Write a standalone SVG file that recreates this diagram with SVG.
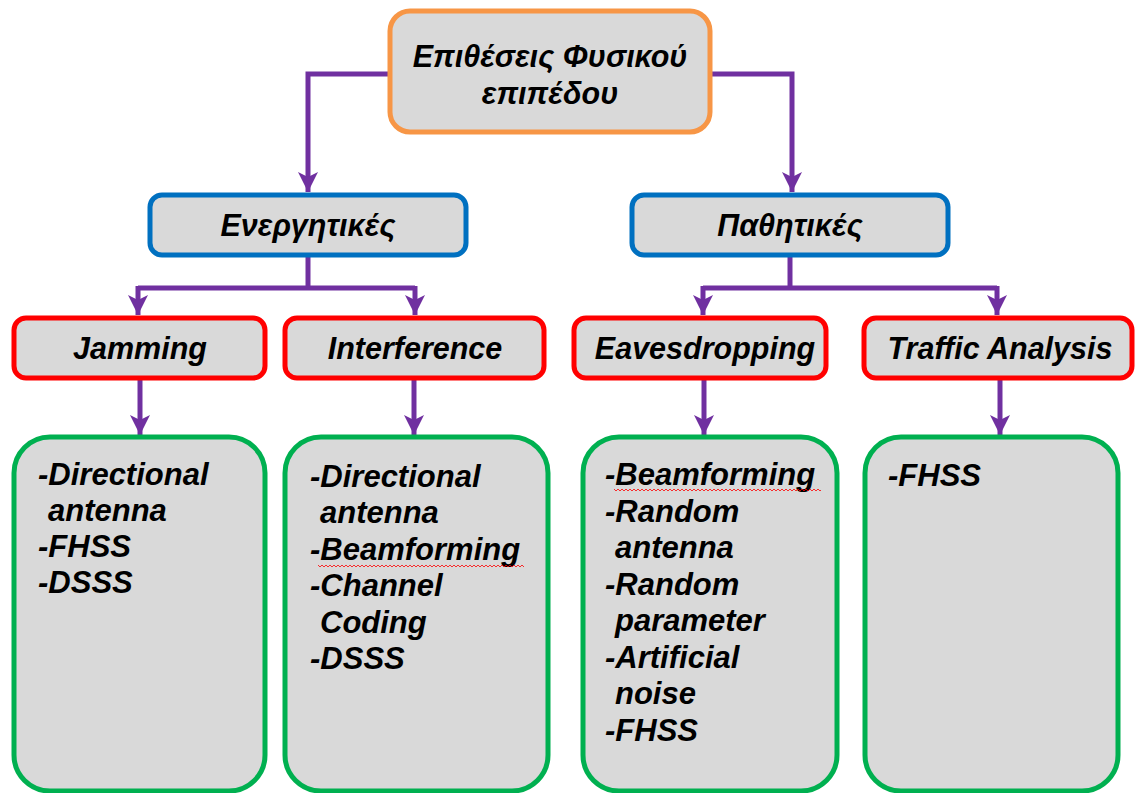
<svg xmlns="http://www.w3.org/2000/svg" width="1135" height="793" viewBox="0 0 1135 793">
  <defs>
    <marker id="arr" markerUnits="userSpaceOnUse" markerWidth="22" markerHeight="22" viewBox="0 0 22 22" refX="20" refY="11" orient="auto">
      <path d="M0,1 L20,11 L0,21 L5,11 Z" fill="#7030A0"/>
    </marker>
    <pattern id="squig" width="4" height="4" patternUnits="userSpaceOnUse">
      <path d="M0,3 L2,1 L4,3" fill="none" stroke="#FF0000" stroke-width="0.8"/>
    </pattern>
  </defs>
  <style>
    .box { fill: #D9D9D9; stroke-width: 5; }
    .root { stroke: #F79646; }
    .cat { stroke: #0070C0; }
    .atk { stroke: #FF0000; }
    .def { stroke: #00B050; }
    .t { font-family: "Liberation Sans", Arial, sans-serif; font-weight: bold; font-style: italic; fill: #000; }
    .big { font-size: 30.5px; text-anchor: middle; }
    .lst { font-size: 31px; }
    .conn { fill: none; stroke: #7030A0; stroke-width: 5; }
  </style>
  <rect width="1135" height="793" fill="#FFFFFF"/>

  <!-- connectors -->
  <g id="connectors">
    <path class="conn" d="M388,74 H308 V192" marker-end="url(#arr)"/>
    <path class="conn" d="M712,74 H792 V192" marker-end="url(#arr)"/>
    <path class="conn" d="M308,256 V288"/>
    <path class="conn" d="M138,288 H415"/>
    <path class="conn" d="M138,286 V315" marker-end="url(#arr)"/>
    <path class="conn" d="M415,286 V315" marker-end="url(#arr)"/>
    <path class="conn" d="M790,256 V288"/>
    <path class="conn" d="M703,288 H997"/>
    <path class="conn" d="M703,286 V315" marker-end="url(#arr)"/>
    <path class="conn" d="M997,286 V315" marker-end="url(#arr)"/>
    <path class="conn" d="M140,380 V435" marker-end="url(#arr)"/>
    <path class="conn" d="M414,380 V435" marker-end="url(#arr)"/>
    <path class="conn" d="M704,380 V435" marker-end="url(#arr)"/>
    <path class="conn" d="M1000,380 V435" marker-end="url(#arr)"/>
  </g>

  <!-- root -->
  <g id="root">
    <rect class="box root" x="390" y="11" width="320" height="121" rx="20"/>
    <text class="t big" x="550" y="67">Επιθέσεις Φυσικού</text>
    <text class="t big" x="550" y="104">επιπέδου</text>
  </g>

  <!-- categories -->
  <g id="active">
    <rect class="box cat" x="150" y="195" width="316" height="60" rx="12"/>
    <text class="t big" x="308" y="236">Ενεργητικές</text>
  </g>
  <g id="passive">
    <rect class="box cat" x="632" y="195" width="316" height="60" rx="12"/>
    <text class="t big" x="790" y="236">Παθητικές</text>
  </g>

  <!-- attacks -->
  <g id="jamming">
    <rect class="box atk" x="14" y="318" width="251" height="60" rx="12"/>
    <text class="t big" x="140" y="359">Jamming</text>
  </g>
  <g id="interference">
    <rect class="box atk" x="285" y="318" width="259" height="60" rx="12"/>
    <text class="t big" x="415" y="359">Interference</text>
  </g>
  <g id="eavesdropping">
    <rect class="box atk" x="574" y="318" width="252" height="60" rx="12"/>
    <text class="t big" x="705" y="359">Eavesdropping</text>
  </g>
  <g id="traffic">
    <rect class="box atk" x="864" y="318" width="268" height="60" rx="12"/>
    <text class="t big" x="1000" y="359">Traffic Analysis</text>
  </g>

  <!-- countermeasures -->
  <g id="jamming-defs">
    <rect class="box def" x="14" y="437" width="251" height="354" rx="36"/>
    <text class="t lst" x="38" y="485">-Directional</text>
    <text class="t lst" x="48" y="521">antenna</text>
    <text class="t lst" x="38" y="557">-FHSS</text>
    <text class="t lst" x="38" y="593">-DSSS</text>
  </g>
  <g id="interference-defs">
    <rect class="box def" x="285" y="437" width="263" height="354" rx="36"/>
    <text class="t lst" x="310" y="487">-Directional</text>
    <text class="t lst" x="320" y="523">antenna</text>
    <text class="t lst" x="310" y="560">-Beamforming</text>
    <rect x="318" y="563" width="206" height="4" fill="url(#squig)"/>
    <text class="t lst" x="310" y="596">-Channel</text>
    <text class="t lst" x="320" y="633">Coding</text>
    <text class="t lst" x="310" y="669">-DSSS</text>
  </g>
  <g id="eavesdropping-defs">
    <rect class="box def" x="583" y="437" width="254" height="354" rx="36"/>
    <text class="t lst" x="605" y="485">-Beamforming</text>
    <rect x="614" y="488" width="207" height="4" fill="url(#squig)"/>
    <text class="t lst" x="605" y="522">-Random</text>
    <text class="t lst" x="615" y="558">antenna</text>
    <text class="t lst" x="605" y="595">-Random</text>
    <text class="t lst" x="615" y="631">parameter</text>
    <text class="t lst" x="605" y="668">-Artificial</text>
    <text class="t lst" x="615" y="704">noise</text>
    <text class="t lst" x="605" y="741">-FHSS</text>
  </g>
  <g id="traffic-defs">
    <rect class="box def" x="865" y="437" width="253" height="354" rx="36"/>
    <text class="t lst" x="888" y="486">-FHSS</text>
  </g>
</svg>
